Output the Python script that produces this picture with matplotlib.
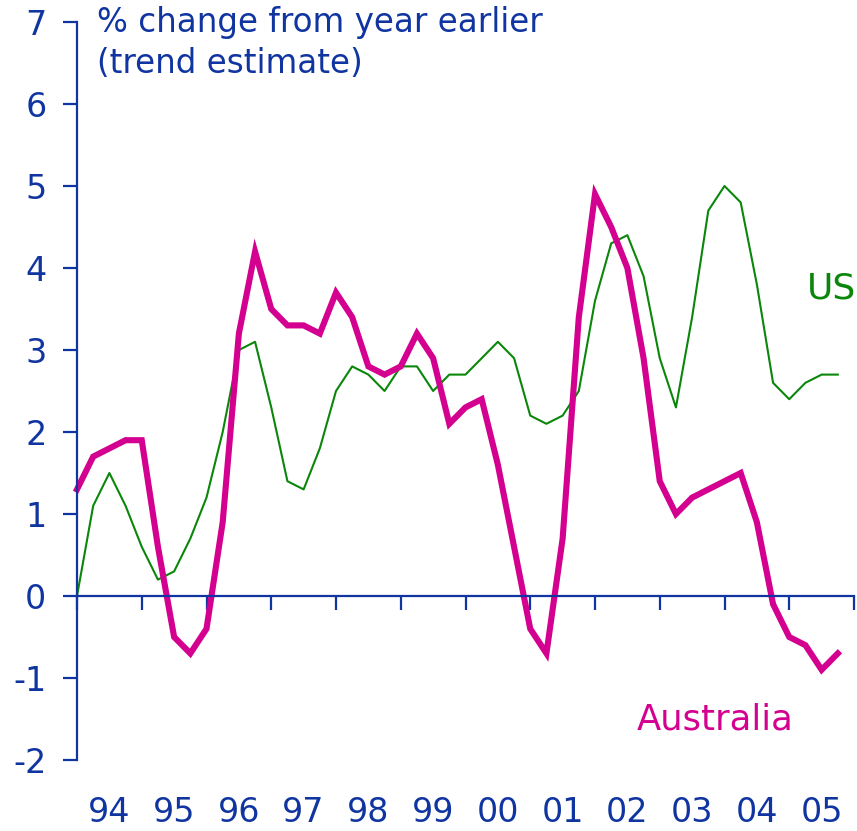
import numpy as np
import matplotlib
matplotlib.use("Agg")
import matplotlib.pyplot as plt

# quarterly, % change from year earlier (trend), Mar-94 .. Dec-05
australia = [1.3, 1.7, 1.8, 1.9, 1.9, 0.6, -0.5, -0.7,
             -0.4, 0.9, 3.2, 4.2, 3.5, 3.3, 3.3, 3.2,
             3.7, 3.4, 2.8, 2.7, 2.8, 3.2, 2.9, 2.1,
             2.3, 2.4, 1.6, 0.6, -0.4, -0.7, 0.7, 3.4,
             4.9, 4.5, 4.0, 2.9, 1.4, 1.0, 1.2, 1.3,
             1.4, 1.5, 0.9, -0.1, -0.5, -0.6, -0.9, -0.7]
us = [0.0, 1.1, 1.5, 1.1, 0.6, 0.2, 0.3, 0.7,
      1.2, 2.0, 3.0, 3.1, 2.3, 1.4, 1.3, 1.8,
      2.5, 2.8, 2.7, 2.5, 2.8, 2.8, 2.5, 2.7,
      2.7, 2.9, 3.1, 2.9, 2.2, 2.1, 2.2, 2.5,
      3.6, 4.3, 4.4, 3.9, 2.9, 2.3, 3.4, 4.7,
      5.0, 4.8, 3.8, 2.6, 2.4, 2.6, 2.7, 2.7]
years = ['94', '95', '96', '97', '98', '99', '00', '01', '02', '03', '04', '05']
yticks = [-2, -1, 0, 1, 2, 3, 4, 5, 6, 7]

BLUE = '#1035a0'
GREEN = '#0a870a'
PINK = '#d4008f'

plt.rcParams['font.family'] = ['DejaVu Sans']

fig = plt.figure(figsize=(8.57, 8.31), dpi=100)
ax = fig.add_axes([77/857, 1 - 760/831, 777/857, 738/831])

x = np.arange(len(australia))
ax.plot(x, us, color=GREEN, lw=1.5, clip_on=False)
ax.plot(x, australia, color=PINK, lw=4.4, clip_on=False, solid_joinstyle='miter')

ax.set_xlim(0, 4 * len(years))
ax.set_ylim(-2, 7)

for s in ['top', 'right']:
    ax.spines[s].set_visible(False)
ax.spines['left'].set_color(BLUE)
ax.spines['left'].set_linewidth(1.6)
ax.spines['bottom'].set_position(('data', 0))
ax.spines['bottom'].set_color(BLUE)
ax.spines['bottom'].set_linewidth(1.6)

ax.set_yticks(yticks)
ax.set_yticklabels([str(v) for v in yticks])
ax.tick_params(axis='y', direction='out', length=10, width=1.6, color=BLUE,
               labelcolor=BLUE, labelsize=24, pad=12)
ax.set_xticks(np.arange(0, 4 * len(years) + 1, 4))
ax.set_xticklabels([])
ax.tick_params(axis='x', direction='out', length=10, width=1.6, color=BLUE)

for i, yr in enumerate(years):
    ax.text(4 * i + 2, -0.071, yr, transform=ax.get_xaxis_transform(),
            ha='center', va='center', color=BLUE, fontsize=24)

fig.text(97/857, 1 - 6/831, '% change from year earlier\n(trend estimate)',
         ha='left', va='top', color=BLUE, fontsize=23.5, linespacing=1.32)

ax.text(45.1, 3.75, 'US', color=GREEN, fontsize=26, ha='left', va='center')
ax.text(34.6, -1.5, 'Australia', color=PINK, fontsize=25.5, ha='left', va='center')

fig.savefig('out.png', dpi=100)
